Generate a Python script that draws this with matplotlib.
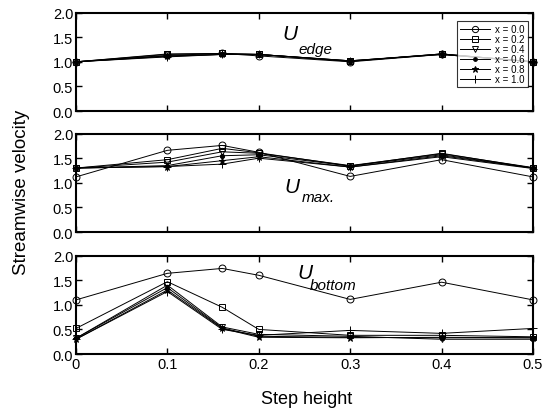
import matplotlib
matplotlib.use("Agg")
import matplotlib.pyplot as plt

plt.rcParams['font.family'] = ['Liberation Sans', 'DejaVu Sans']

step_height = [0.0, 0.1, 0.16, 0.2, 0.3, 0.4, 0.5]
series_labels = ['x = 0.0', 'x = 0.2', 'x = 0.4', 'x = 0.6', 'x = 0.8', 'x = 1.0']

# U_edge per streamwise station
u_edge = [
    [1.00, 1.13, 1.17, 1.12, 1.00, 1.15, 1.00],
    [1.00, 1.16, 1.17, 1.15, 1.01, 1.16, 1.00],
    [1.00, 1.15, 1.17, 1.15, 1.01, 1.16, 1.00],
    [1.00, 1.12, 1.15, 1.15, 1.02, 1.16, 1.00],
    [1.00, 1.11, 1.15, 1.15, 1.02, 1.15, 1.00],
    [1.00, 1.10, 1.15, 1.15, 1.02, 1.15, 1.00],
]

# U_max per streamwise station
u_max = [
    [1.12, 1.66, 1.76, 1.62, 1.13, 1.47, 1.12],
    [1.30, 1.47, 1.70, 1.61, 1.34, 1.60, 1.30],
    [1.30, 1.42, 1.63, 1.60, 1.35, 1.59, 1.31],
    [1.30, 1.35, 1.55, 1.57, 1.34, 1.57, 1.30],
    [1.30, 1.33, 1.45, 1.53, 1.32, 1.55, 1.30],
    [1.30, 1.33, 1.38, 1.50, 1.32, 1.53, 1.29],
]

# U_bottom per streamwise station
u_bottom = [
    [1.10, 1.64, 1.74, 1.60, 1.11, 1.46, 1.10],
    [0.52, 1.47, 0.95, 0.50, 0.38, 0.38, 0.35],
    [0.32, 1.40, 0.55, 0.40, 0.36, 0.30, 0.30],
    [0.32, 1.35, 0.53, 0.36, 0.34, 0.33, 0.33],
    [0.30, 1.30, 0.52, 0.34, 0.33, 0.34, 0.33],
    [0.30, 1.27, 0.50, 0.38, 0.48, 0.42, 0.52],
]

markers = ['o', 's', 'v', 'o', '*', '+']
marker_sizes = [5, 4.5, 5, 3, 5, 6]
fills = ['none', 'none', 'none', 'black', 'black', 'none']

yticks = [0.0, 0.5, 1.0, 1.5, 2.0]
xticks = [0.0, 0.1, 0.2, 0.3, 0.4, 0.5]
xticklabels = ['0', '0.1', '0.2', '0.3', '0.4', '0.5']

fig = plt.figure(figsize=(5.49, 4.10), dpi=100)
left, width = 0.1384, 0.8324
panel_bottoms = [0.7268, 0.4317, 0.1341]
panel_height = 0.240

panels = [u_edge, u_max, u_bottom]
axes = []
for i, data in enumerate(panels):
    ax = fig.add_axes([left, panel_bottoms[i], width, panel_height])
    for j, vals in enumerate(data):
        ax.plot(step_height, vals, color='black', linewidth=0.7,
                marker=markers[j], markersize=marker_sizes[j],
                markerfacecolor=fills[j], markeredgecolor='black',
                markeredgewidth=0.7, label=series_labels[j], clip_on=False)
    ax.set_xlim(0, 0.5)
    ax.set_ylim(0, 2.0)
    ax.set_yticks(yticks)
    ax.set_yticklabels([f'{v:.1f}' for v in yticks], fontsize=10.5)
    ax.set_xticks(xticks)
    if i == 2:
        ax.set_xticklabels(xticklabels, fontsize=10.5)
    else:
        ax.set_xticklabels([])
    ax.tick_params(direction='in', top=True, right=True, length=4, width=1.0, pad=2)
    for s in ax.spines.values():
        s.set_linewidth(1.5)
    axes.append(ax)

# Panel annotations
axes[0].text(0.234, 1.57, 'U', style='italic', fontsize=15, ha='center', va='center')
axes[0].text(0.2615, 1.27, 'edge', style='italic', fontsize=11, ha='center', va='center')
axes[1].text(0.236, 0.93, 'U', style='italic', fontsize=15, ha='center', va='center')
axes[1].text(0.265, 0.71, 'max.', style='italic', fontsize=11, ha='center', va='center')
axes[2].text(0.2505, 1.66, 'U', style='italic', fontsize=15, ha='center', va='center')
axes[2].text(0.281, 1.41, 'bottom', style='italic', fontsize=11, ha='center', va='center')

leg = axes[0].legend(loc='upper right', bbox_to_anchor=(0.989, 0.91), fontsize=7,
                     frameon=True, fancybox=False, edgecolor='black',
                     handlelength=3.0, handletextpad=0.6, labelspacing=0.0,
                     borderpad=0.3, borderaxespad=0.0, markerscale=0.9)
leg.get_frame().set_linewidth(0.8)

fig.text(0.040, 0.532, 'Streamwise velocity', rotation=90, fontsize=13.5,
         ha='center', va='center')
fig.text(0.558, 0.026, 'Step height', fontsize=13, ha='center', va='center')

fig.savefig('out.png', dpi=100)
